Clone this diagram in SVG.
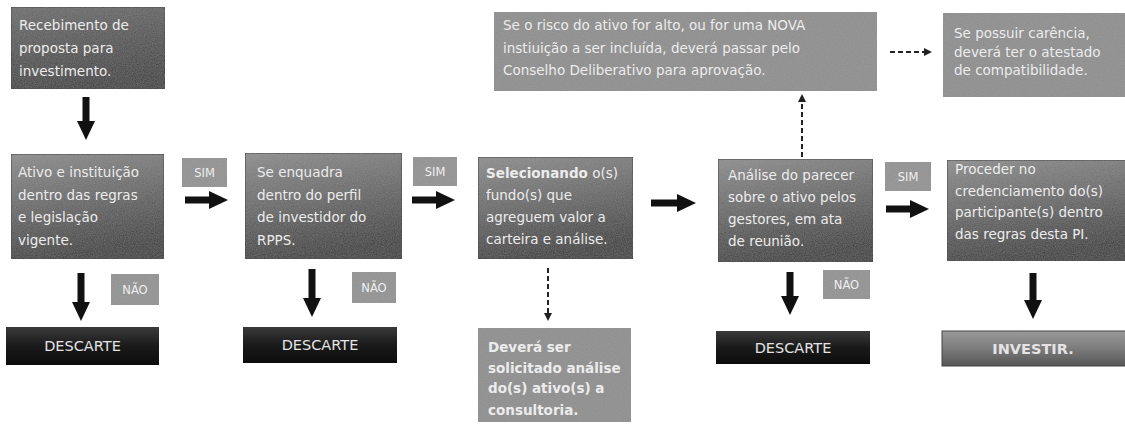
<svg xmlns="http://www.w3.org/2000/svg" width="1125" height="425" viewBox="0 0 1125 425">
<style>
.t{font-family:"DejaVu Sans","Liberation Sans",sans-serif;font-size:13.5px;fill:#ececec}
.b{font-weight:bold}
.lbl{font-family:"DejaVu Sans","Liberation Sans",sans-serif;font-size:11.5px;fill:#efefef;text-anchor:middle}
.big{font-family:"DejaVu Sans","Liberation Sans",sans-serif;font-size:14.5px;fill:#e4e4e4;text-anchor:middle}
.box{fill:url(#gMain);stroke:#2a2a2a;stroke-width:1}
.dark{fill:url(#gDark);stroke:#2a2a2a;stroke-width:1}
.flat{fill:#8c8c8c;filter:url(#grain)}
.tag{fill:#919191;filter:url(#grain)}
.blk{fill:url(#gBlack)}
.inv{fill:url(#gInv);stroke:#444;stroke-width:1}
.thick{stroke:#111;stroke-width:7;fill:none;marker-end:url(#head)}
.dash{stroke:#222;stroke-width:2;fill:none;stroke-dasharray:5 3;marker-end:url(#dhead)}
</style>
<defs>
<linearGradient id="gMain" x1="0" y1="0" x2="0.25" y2="1">
<stop offset="0" stop-color="#8c8c8c"/>
<stop offset="0.5" stop-color="#666"/>
<stop offset="1" stop-color="#383838"/>
</linearGradient>
<linearGradient id="gDark" x1="0" y1="0" x2="0.25" y2="1">
<stop offset="0" stop-color="#6a6a6a"/>
<stop offset="1" stop-color="#3a3a3a"/>
</linearGradient>
<linearGradient id="gBlack" x1="0" y1="0" x2="0" y2="1">
<stop offset="0" stop-color="#3a3a3a"/>
<stop offset="0.5" stop-color="#1a1a1a"/>
<stop offset="1" stop-color="#0c0c0c"/>
</linearGradient>
<linearGradient id="gInv" x1="0" y1="0" x2="0" y2="1">
<stop offset="0" stop-color="#9a9a9a"/>
<stop offset="0.5" stop-color="#7c7c7c"/>
<stop offset="1" stop-color="#555"/>
</linearGradient>
<filter id="grain" x="0" y="0" width="1" height="1">
<feTurbulence type="fractalNoise" baseFrequency="0.9" numOctaves="2" seed="3" result="n"/>
<feColorMatrix in="n" type="matrix" values="0 0 0 0 0.5  0 0 0 0 0.5  0 0 0 0 0.5  0 0 0 0.25 0" result="g"/>
<feComposite in="g" in2="SourceGraphic" operator="in" result="gc"/>
<feMerge><feMergeNode in="SourceGraphic"/><feMergeNode in="gc"/></feMerge>
</filter>
<marker id="head" markerUnits="userSpaceOnUse" markerWidth="19" markerHeight="18" viewBox="0 0 19 18" refX="1" refY="9" orient="auto">
<path d="M0,0 L19,9 L0,18 z" fill="#111"/>
</marker>
<marker id="dhead" markerUnits="userSpaceOnUse" markerWidth="8" markerHeight="8" viewBox="0 0 8 8" refX="1" refY="4" orient="auto">
<path d="M0,0 L8,4 L0,8 z" fill="#222"/>
</marker>
</defs>
<rect width="1125" height="425" fill="#ffffff"/>

<g id="connectors">
<line class="thick" x1="86" y1="97" x2="86" y2="122"/>
<line class="thick" x1="185" y1="200" x2="210" y2="200"/>
<line class="thick" x1="412" y1="200" x2="437" y2="200"/>
<line class="thick" x1="651" y1="203" x2="678" y2="203"/>
<line class="thick" x1="886" y1="209" x2="911" y2="209"/>
<line class="thick" x1="81" y1="273" x2="81" y2="303"/>
<line class="thick" x1="312" y1="269" x2="312" y2="299"/>
<line class="thick" x1="790" y1="272" x2="790" y2="297"/>
<line class="thick" x1="1033" y1="273" x2="1033" y2="301"/>
<line class="dash" x1="548" y1="268" x2="548" y2="314"/>
<line class="dash" x1="802" y1="157" x2="802" y2="101"/>
<line class="dash" x1="890" y1="52" x2="925" y2="52"/>
</g>

<g id="n-recebimento">
<rect class="dark" x="11" y="7" width="154" height="82" filter="url(#grain)"/>
<text class="t" x="19" y="30">Recebimento de</text>
<text class="t" x="19" y="53">proposta para</text>
<text class="t" x="19" y="76">investimento.</text>
</g>

<g id="n-ativo">
<rect class="box" x="11" y="154" width="153" height="105" filter="url(#grain)"/>
<text class="t" x="18" y="177">Ativo e instituição</text>
<text class="t" x="18" y="200">dentro das regras</text>
<text class="t" x="18" y="222">e legislação</text>
<text class="t" x="18" y="245">vigente.</text>
</g>

<g id="n-sim1"><rect class="tag" x="182" y="158" width="45" height="29"/><text class="lbl" x="204.5" y="177">SIM</text></g>

<g id="n-enquadra">
<rect class="box" x="245" y="153" width="157" height="106" filter="url(#grain)"/>
<text class="t" x="257" y="177">Se enquadra</text>
<text class="t" x="257" y="200">dentro do perfil</text>
<text class="t" x="257" y="222">de investidor do</text>
<text class="t" x="257" y="245">RPPS.</text>
</g>

<g id="n-sim2"><rect class="tag" x="413" y="157" width="44" height="29"/><text class="lbl" x="435" y="176">SIM</text></g>

<g id="n-selecionando">
<rect class="box" x="478" y="157" width="155" height="102" filter="url(#grain)"/>
<text class="t" x="486" y="178"><tspan class="b">Selecionando</tspan> o(s)</text>
<text class="t" x="486" y="200">fundo(s) que</text>
<text class="t" x="486" y="222">agreguem valor a</text>
<text class="t" x="486" y="244">carteira e análise.</text>
</g>

<g id="n-analise">
<rect class="box" x="718" y="159" width="155" height="103" filter="url(#grain)"/>
<text class="t" x="728" y="180">Análise do parecer</text>
<text class="t" x="728" y="202">sobre o ativo pelos</text>
<text class="t" x="728" y="224">gestores, em ata</text>
<text class="t" x="728" y="246">de reunião.</text>
</g>

<g id="n-sim3"><rect class="tag" x="885" y="162" width="46" height="29"/><text class="lbl" x="908" y="181">SIM</text></g>

<g id="n-proceder">
<rect class="box" x="947" y="160" width="180" height="101" filter="url(#grain)"/>
<text class="t" x="955" y="174">Proceder no</text>
<text class="t" x="955" y="196">credenciamento do(s)</text>
<text class="t" x="955" y="217">participante(s) dentro</text>
<text class="t" x="955" y="239">das regras desta PI.</text>
</g>

<g id="n-risco">
<rect class="flat" x="494" y="12" width="383" height="79"/>
<text class="t" x="503" y="30">Se o risco do ativo for alto, ou for uma NOVA</text>
<text class="t" x="503" y="53">instiuição a ser incluída, deverá passar pelo</text>
<text class="t" x="503" y="75">Conselho Deliberativo para aprovação.</text>
</g>

<g id="n-carencia">
<rect class="flat" x="943" y="13" width="182" height="84"/>
<text class="t" x="954" y="38">Se possuir carência,</text>
<text class="t" x="954" y="57">deverá ter o atestado</text>
<text class="t" x="954" y="75">de compatibilidade.</text>
</g>

<g id="n-nao1"><rect class="tag" x="111" y="274" width="48" height="31"/><text class="lbl" x="135" y="294">NÃO</text></g>
<g id="n-descarte1"><rect class="blk" x="6" y="327" width="153" height="38"/><text class="big" x="82.5" y="351">DESCARTE</text></g>

<g id="n-nao2"><rect class="tag" x="352" y="272" width="44" height="31"/><text class="lbl" x="374" y="292">NÃO</text></g>
<g id="n-descarte2"><rect class="blk" x="243" y="327" width="154" height="36"/><text class="big" x="320" y="350">DESCARTE</text></g>

<g id="n-consultoria">
<rect class="flat" x="478" y="328" width="153" height="94"/>
<text class="t b" x="488" y="352">Deverá ser</text>
<text class="t b" x="488" y="373">solicitado análise</text>
<text class="t b" x="488" y="393">do(s) ativo(s) a</text>
<text class="t b" x="488" y="415">consultoria.</text>
</g>

<g id="n-nao3"><rect class="tag" x="823" y="270" width="47" height="29"/><text class="lbl" x="846.5" y="289">NÃO</text></g>
<g id="n-descarte3"><rect class="blk" x="716" y="331" width="154" height="33"/><text class="big" x="793" y="353">DESCARTE</text></g>

<g id="n-investir"><rect class="inv" x="942" y="331" width="185" height="35"/><text class="big b" x="1033" y="354">INVESTIR.</text></g>
</svg>
